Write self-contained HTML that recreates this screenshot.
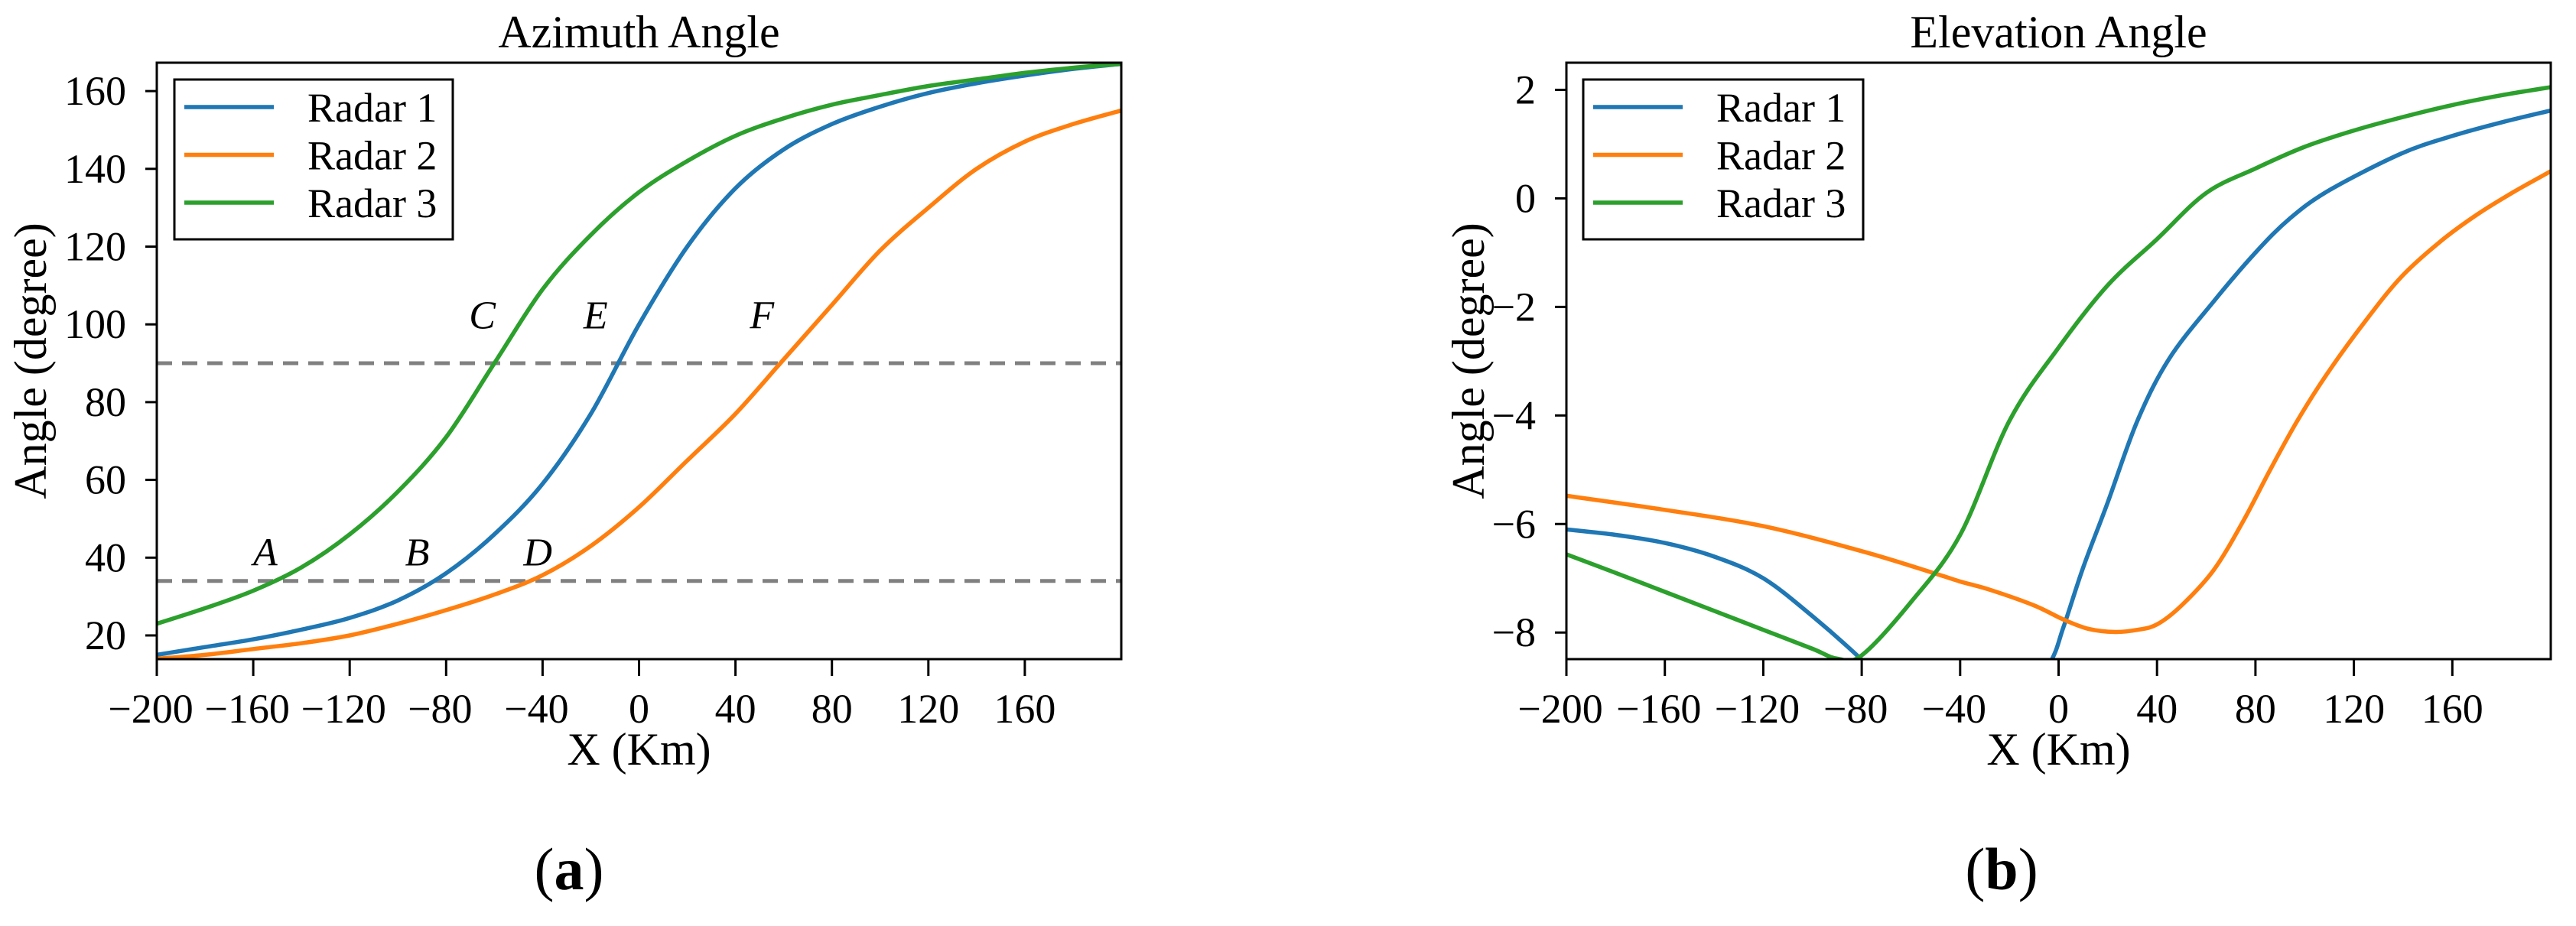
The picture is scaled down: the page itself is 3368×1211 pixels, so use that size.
<!DOCTYPE html>
<html><head><meta charset="utf-8"><style>
html,body{margin:0;padding:0;background:#fff;}
svg{display:block;font-family:"Liberation Serif",serif;}
</style></head><body>
<svg id="fig" width="3368" height="1211" viewBox="0 0 3368 1211" xmlns="http://www.w3.org/2000/svg">
<defs>
<clipPath id="clipA"><rect x="205" y="82" width="1261" height="780"/></clipPath>
<clipPath id="clipB"><rect x="2048" y="82" width="1287" height="780"/></clipPath>
</defs>
<g id="root"></g>
</svg>
<script>
// ---------- data: Azimuth ----------
const azX = [-200,-180,-160,-140,-120,-100,-80,-60,-40,-20,0,20,40,60,80,100,120,140,160,180,200];
const azRadar1 = [15,17,19,21.5,24.5,29,36,46,59,77,100,120,135,145,151.5,156,159.5,162,164,165.7,167];
const azRadar2 = [14,15,16.5,18,20,23,26.5,30.5,35.5,43,53,65,77,91,105,119,130,140,147,151.5,155];
const azRadar3 = [23,27,31.5,37.5,46,57,71,90,109,123,134,142,148.5,153,156.5,159,161.3,163,164.7,166,167];
const azRefLines = [90,34];
const azPointLabels = ["A","B","C","D","E","F"];
const azPointX = [-155,-92,-65,-42,-18,51];
const azPointY = [38,38,99,38,99,99];
const azYTicks = [20,40,60,80,100,120,140,160];
const xTicks = [-200,-160,-120,-80,-40,0,40,80,120,160];
// ---------- data: Elevation ----------
const elX1 = [-200,-180,-160,-140,-120,-100,-80,-60,-40,-20,-4,2,10,20,32,45,63,80,94,110,139,160,180,200];
const elRadar1 = [-6.1,-6.2,-6.35,-6.6,-7.0,-7.7,-8.5,-9.4,-10.0,-9.6,-8.6,-7.9,-6.8,-5.6,-4.1,-2.95,-1.9,-1.0,-0.37,0.15,0.82,1.15,1.4,1.62];
const elX2 = [-200,-160,-120,-80,-51,-40,-28,-10,2,12,23,32,40,50,63,75,86,97,109,124,139,155,170,185,200];
const elRadar2 = [-5.48,-5.74,-6.04,-6.5,-6.9,-7.06,-7.21,-7.5,-7.76,-7.93,-7.99,-7.95,-7.85,-7.5,-6.85,-5.95,-5.0,-4.1,-3.24,-2.3,-1.46,-0.8,-0.3,0.12,0.5];
const elX3 = [-200,-180,-160,-140,-120,-100,-90,-80,-60,-40,-20,0,20,40,60,80,100,120,140,160,180,200];
const elRadar3 = [-6.56,-6.9,-7.25,-7.6,-7.95,-8.3,-8.48,-8.42,-7.44,-6.2,-4.1,-2.75,-1.6,-0.75,0.1,0.55,0.95,1.25,1.5,1.72,1.9,2.05];
const elYTicks = [-8,-6,-4,-2,0,2];
const seriesNames = ["Radar 1","Radar 2","Radar 3"];
const colors = ["#1f77b4","#ff7f0e","#2ca02c"];

const NS = "http://www.w3.org/2000/svg";
const root = document.getElementById("root");
function mk(tag, attrs, parent, text){
  const e = document.createElementNS(NS, tag);
  for (const k in attrs) e.setAttribute(k, attrs[k]);
  if (text !== undefined) e.textContent = text;
  (parent || root).appendChild(e);
  return e;
}
function smoothPath(pts){
  let d = "M" + pts[0][0].toFixed(1) + "," + pts[0][1].toFixed(1);
  for (let i = 0; i < pts.length - 1; i++){
    const p0 = pts[Math.max(0,i-1)], p1 = pts[i], p2 = pts[i+1], p3 = pts[Math.min(pts.length-1,i+2)];
    const c1x = p1[0] + (p2[0]-p0[0])/6, c1y = p1[1] + (p2[1]-p0[1])/6;
    const c2x = p2[0] - (p3[0]-p1[0])/6, c2y = p2[1] - (p3[1]-p1[1])/6;
    d += " C" + c1x.toFixed(1)+","+c1y.toFixed(1)+" "+c2x.toFixed(1)+","+c2y.toFixed(1)+" "+p2[0].toFixed(1)+","+p2[1].toFixed(1);
  }
  return d;
}

function panel(cfg){
  const {L,R,T,B,xmin,xmax,ymin,ymax,clip,yTicks,title,prefix} = cfg;
  const sx = v => L + (v - xmin) / (xmax - xmin) * (R - L);
  const sy = v => B - (v - ymin) / (ymax - ymin) * (B - T);
  const g = mk("g", {});
  
  
  const t = mk("text", {x:(L+R)/2, y:62, "text-anchor":"middle", "font-size":60}, g, title);
  
  
  const plot = mk("g", {"clip-path":"url(#"+clip+")"}, g);
  
  
  if (cfg.refLines) cfg.refLines.forEach((v,i) => {
    const l = mk("line", {x1:L, x2:R, y1:sy(v), y2:sy(v), stroke:"#808080", "stroke-width":5, "stroke-dasharray":"20,13"}, plot);
    
    
  });
  cfg.series.forEach((s,i) => {
    const pts = s.x.map((xv,j) => [sx(xv), sy(s.y[j])]);
    const p = mk("path", {d:smoothPath(pts), fill:"none", stroke:colors[i], "stroke-width":5.5, "stroke-linejoin":"round"}, plot);
    
    
  });
  if (cfg.labels) cfg.labels.forEach((lb,i) => {
    const e = mk("text", {x:sx(cfg.labelX[i]), y:sy(cfg.labelY[i]), "text-anchor":"middle", "font-size":52, "font-style":"italic", "font-family":"Liberation Serif, serif"}, g, lb);
    
    
  });
  const frame = mk("rect", {x:L, y:T, width:R-L, height:B-T, fill:"none", stroke:"#000", "stroke-width":3}, g);
  
  
  yTicks.forEach(v => {
    const y = sy(v);
    const tk = mk("line", {x1:L-15, x2:L, y1:y, y2:y, stroke:"#000", "stroke-width":3}, g);
    
    
    const tl = mk("text", {x:L-cfg.yPad, y:y+18, "text-anchor":"end", "font-size":54}, g, v < 0 ? "\u2212" + Math.abs(v) : String(v));
    
    
  });
  xTicks.forEach(v => {
    const x = sx(v);
    const tk = mk("line", {x1:x, x2:x, y1:B, y2:B+22, stroke:"#000", "stroke-width":3}, g);
    
    
    const tl = mk("text", {x:x - (v<0?8:0), y:945, "text-anchor":"middle", "font-size":54}, g, v < 0 ? "\u2212" + Math.abs(v) : String(v));
    
    
  });
  const xl = mk("text", {x:(L+R)/2, y:1000, "text-anchor":"middle", "font-size":60}, g, "X (Km)");
  
  
  const yl = mk("text", {x:0, y:0, "text-anchor":"middle", "font-size":60, transform:"translate("+cfg.yLabelX+","+((T+B)/2)+") rotate(-90)"}, g, "Angle (degree)");
  
  
  const lg = mk("g", {}, g);
  
  
  const lr = mk("rect", {x:cfg.legX, y:104, width:cfg.legW, height:209, fill:"#fff", stroke:"#000", "stroke-width":3}, lg);
  
  
  seriesNames.forEach((n,i) => {
    const y = 140 + i*62.5;
    const ll = mk("line", {x1:cfg.legX+13, x2:cfg.legX+130, y1:y, y2:y, stroke:colors[i], "stroke-width":5.5}, lg);
    
    
    const lt = mk("text", {x:cfg.legX+174, y:y+19, "font-size":54}, lg, n);
    
    
  });
}

panel({prefix:"azimuth", L:205, R:1466, T:82, B:862, xmin:-200, xmax:200, ymin:13.9, ymax:167.3, clip:"clipA",
  yTicks:azYTicks, title:"Azimuth Angle", yPad:40, yLabelX:60, legX:228, legW:364,
  refLines:azRefLines, labels:azPointLabels, labelX:azPointX, labelY:azPointY,
  series:[{x:azX,y:azRadar1},{x:azX,y:azRadar2},{x:azX,y:azRadar3}]});
panel({prefix:"elevation", L:2048, R:3335, T:82, B:862, xmin:-200, xmax:200, ymin:-8.49, ymax:2.5, clip:"clipB",
  yTicks:elYTicks, title:"Elevation Angle", yPad:40, yLabelX:1940, legX:2070, legW:366,
  series:[{x:elX1,y:elRadar1},{x:elX2,y:elRadar2},{x:elX3,y:elRadar3}]});

const ca = mk("text", {x:744, y:1163, "text-anchor":"middle", "font-size":78}, root);


mk("tspan", {}, ca, "(");
mk("tspan", {"font-weight":"bold"}, ca, "a");
mk("tspan", {}, ca, ")");
const cb = mk("text", {x:2617, y:1163, "text-anchor":"middle", "font-size":78}, root);


mk("tspan", {}, cb, "(");
mk("tspan", {"font-weight":"bold"}, cb, "b");
mk("tspan", {}, cb, ")");
</script>
</body></html>
